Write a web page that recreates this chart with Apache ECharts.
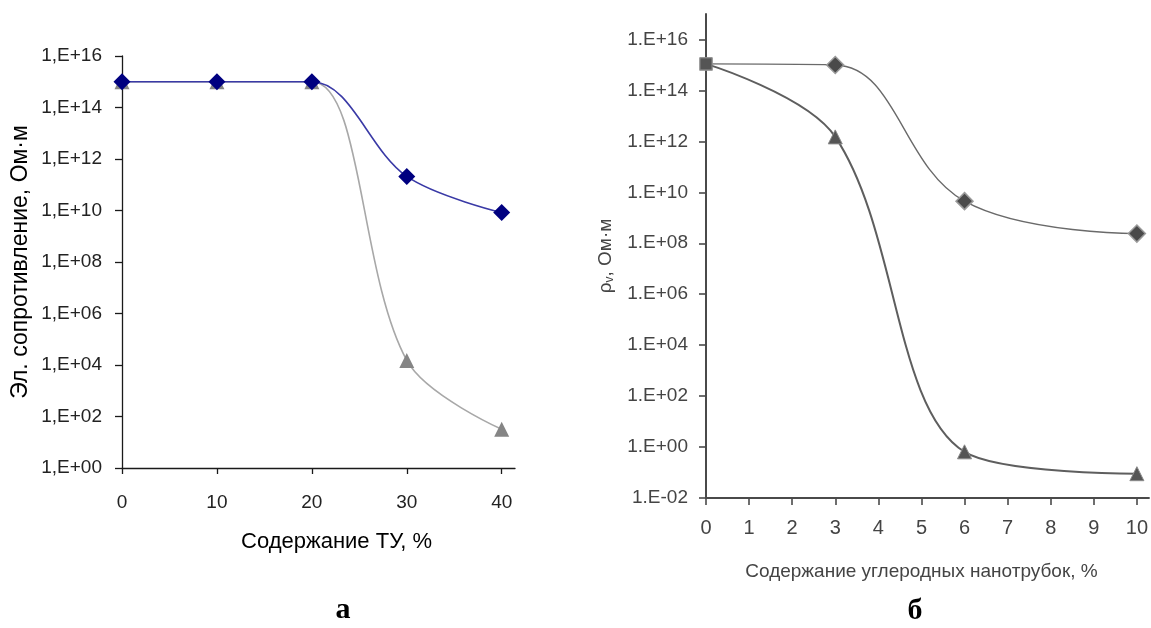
<!DOCTYPE html>
<html>
<head>
<meta charset="utf-8">
<script src="https://cdn.jsdelivr.net/npm/echarts@6/dist/echarts.min.js"></script>
<style>
html,body{margin:0;padding:0;background:#fff;}
#chart{width:1151px;height:628px;}
</style>
</head>
<body>
<div id="chart"></div>
<script>
// ---- Chart а (left) ----
const leftX = [0, 10, 20, 30, 40];
const leftBlue = [1e15, 1e15, 1e15, 2.1e11, 8.3e9];
const leftGray = [1e15, 1e15, 1e15, 1.5e4, 32];
const leftXTicks = [0, 10, 20, 30, 40];
const leftYTicks = [1, 1e2, 1e4, 1e6, 1e8, 1e10, 1e12, 1e14, 1e16];
const leftYTickLabels = ['1,E+00','1,E+02','1,E+04','1,E+06','1,E+08','1,E+10','1,E+12','1,E+14','1,E+16'];
const leftXName = 'Содержание ТУ, %';
const leftYName = 'Эл. сопротивление, Ом·м';

// ---- Chart б (right) ----
const rightX = [0, 3, 6, 10];
const rightDiamond = [1.1e15, 1.0e15, 4.5e9, 2.4e8];
const rightTriangle = [1.1e15, 1.5e12, 0.65, 0.09];
const rightXTicks = [0, 1, 2, 3, 4, 5, 6, 7, 8, 9, 10];
const rightYTicks = [1e-2, 1, 1e2, 1e4, 1e6, 1e8, 1e10, 1e12, 1e14, 1e16];
const rightYTickLabels = ['1.E-02','1.E+00','1.E+02','1.E+04','1.E+06','1.E+08','1.E+10','1.E+12','1.E+14','1.E+16'];
const rightXName = 'Содержание углеродных нанотрубок, %';
const rightYName = '{a|ρ}{s|v}{a|, Ом·м}';

const panelLetters = ['а', 'б'];

const FONT = '"Liberation Sans", Arial, sans-serif';

function labelFor(ticks, labels) {
  return function (v) {
    const lv = Math.log10(v);
    for (let i = 0; i < ticks.length; i++) {
      if (Math.abs(Math.log10(ticks[i]) - lv) < 1e-6) return labels[i];
    }
    return '';
  };
}

function pairs(xs, ys) { return xs.map((x, i) => [x, ys[i]]); }

const chart = echarts.init(document.getElementById('chart'), null, {renderer: 'canvas'});

const option = {
  animation: false,
  backgroundColor: '#ffffff',
  textStyle: {fontFamily: FONT},
  grid: [
    {left: 122, top: 56, width: 393, height: 412, containLabel: false},
    {left: 706, top: 14, width: 445, height: 484, containLabel: false}
  ],
  xAxis: [
    {
      type: 'value', gridIndex: 0, min: 0, max: 41.4,
      splitLine: {show: false},
      axisLine: {show: true, onZero: false, lineStyle: {color: '#1a1a1a', width: 1.3}},
      axisTick: {show: true, customValues: leftXTicks, length: 6, inside: false, lineStyle: {color: '#1a1a1a', width: 1.3}},
      axisLabel: {customValues: leftXTicks, margin: 25, fontSize: 19, color: '#222', fontFamily: FONT},
      name: leftXName, nameLocation: 'middle', nameGap: 63,
      nameTextStyle: {fontSize: 22, color: '#000', fontFamily: FONT, padding: [0, 0, 0, 36]}
    },
    {
      type: 'value', gridIndex: 1, min: 0, max: 10.28,
      splitLine: {show: false},
      axisLine: {show: true, onZero: false, lineStyle: {color: '#4a4a4a', width: 2}},
      axisTick: {show: true, customValues: rightXTicks, length: 7, lineStyle: {color: '#4a4a4a', width: 1.6}},
      axisLabel: {customValues: rightXTicks, margin: 20, fontSize: 20, color: '#444', fontFamily: FONT},
      name: rightXName, nameLocation: 'middle', nameGap: 64,
      nameTextStyle: {fontSize: 19, color: '#444', fontFamily: FONT, padding: [0, 12, 0, 0]}
    }
  ],
  yAxis: [
    {
      type: 'log', logBase: 10, gridIndex: 0, min: 1, max: 1e16,
      splitLine: {show: false},
      axisLine: {show: true, onZero: false, lineStyle: {color: '#1a1a1a', width: 1.3}},
      axisTick: {show: true, customValues: leftYTicks, length: 7, lineStyle: {color: '#1a1a1a', width: 1.3}},
      axisLabel: {customValues: leftYTicks, formatter: labelFor(leftYTicks, leftYTickLabels), margin: 20, fontSize: 19, color: '#222', fontFamily: FONT},
      name: leftYName, nameLocation: 'middle', nameGap: 90, nameRotate: 90,
      nameTextStyle: {fontSize: 23, color: '#000', fontFamily: FONT}
    },
    {
      type: 'log', logBase: 10, gridIndex: 1, min: 1e-2, max: 1e17,
      splitLine: {show: false},
      axisLine: {show: true, onZero: false, lineStyle: {color: '#4a4a4a', width: 2}},
      axisTick: {show: true, customValues: rightYTicks, length: 7, lineStyle: {color: '#4a4a4a', width: 1.6}},
      axisLabel: {customValues: rightYTicks, formatter: labelFor(rightYTicks, rightYTickLabels), margin: 18, fontSize: 19, color: '#444', fontFamily: FONT},
      name: rightYName, nameLocation: 'middle', nameGap: 90, nameRotate: 90,
      nameTextStyle: {
        fontFamily: FONT, fontSize: 19, color: '#444',
        rich: {
          a: {fontSize: 19, color: '#444', fontFamily: FONT},
          s: {fontSize: 12, color: '#444', fontFamily: FONT, padding: [9, 0, 0, 0]}
        }
      }
    }
  ],
  series: [
    {
      name: 'gray-a', type: 'line', xAxisIndex: 0, yAxisIndex: 0,
      data: pairs(leftX, leftGray), smooth: 0.35,
      symbol: 'triangle', symbolSize: 15,
      lineStyle: {color: '#a8a8a8', width: 1.6},
      itemStyle: {color: '#858585'}, z: 2
    },
    {
      name: 'blue-a', type: 'line', xAxisIndex: 0, yAxisIndex: 0,
      data: pairs(leftX, leftBlue), smooth: 0.35,
      symbol: 'diamond', symbolSize: 17,
      lineStyle: {color: '#3a3aa6', width: 1.6},
      itemStyle: {color: '#000080'}, z: 3
    },
    {
      name: 'diamond-b', type: 'line', xAxisIndex: 1, yAxisIndex: 1,
      data: pairs(rightX, rightDiamond).map((p, i) => i === 0 ? {value: p, symbol: 'rect', symbolSize: 12} : p),
      smooth: 0.4,
      symbol: 'diamond', symbolSize: 17,
      lineStyle: {color: '#6a6a6a', width: 1.4},
      itemStyle: {color: '#4a4a4a', borderColor: '#9a9a9a', borderWidth: 1.5}, z: 3
    },
    {
      name: 'triangle-b', type: 'line', xAxisIndex: 1, yAxisIndex: 1,
      data: pairs(rightX, rightTriangle).map((p, i) => i === 0 ? {value: p, symbol: 'rect', symbolSize: 12} : p),
      smooth: 0.35,
      symbol: 'triangle', symbolSize: 14,
      lineStyle: {color: '#5e5e5e', width: 2},
      itemStyle: {color: '#555555', borderColor: '#8a8a8a', borderWidth: 1}, z: 4
    }
  ],
  graphic: [
    {type: 'text', x: 343, y: 610, style: {text: panelLetters[0], font: 'bold 30px "Liberation Serif", "Times New Roman", serif', fill: '#000', textAlign: 'center', textVerticalAlign: 'middle'}},
    {type: 'text', x: 915, y: 611, style: {text: panelLetters[1], font: 'bold 30px "Liberation Serif", "Times New Roman", serif', fill: '#000', textAlign: 'center', textVerticalAlign: 'middle'}}
  ]
};

chart.setOption(option);
</script>
</body>
</html>
